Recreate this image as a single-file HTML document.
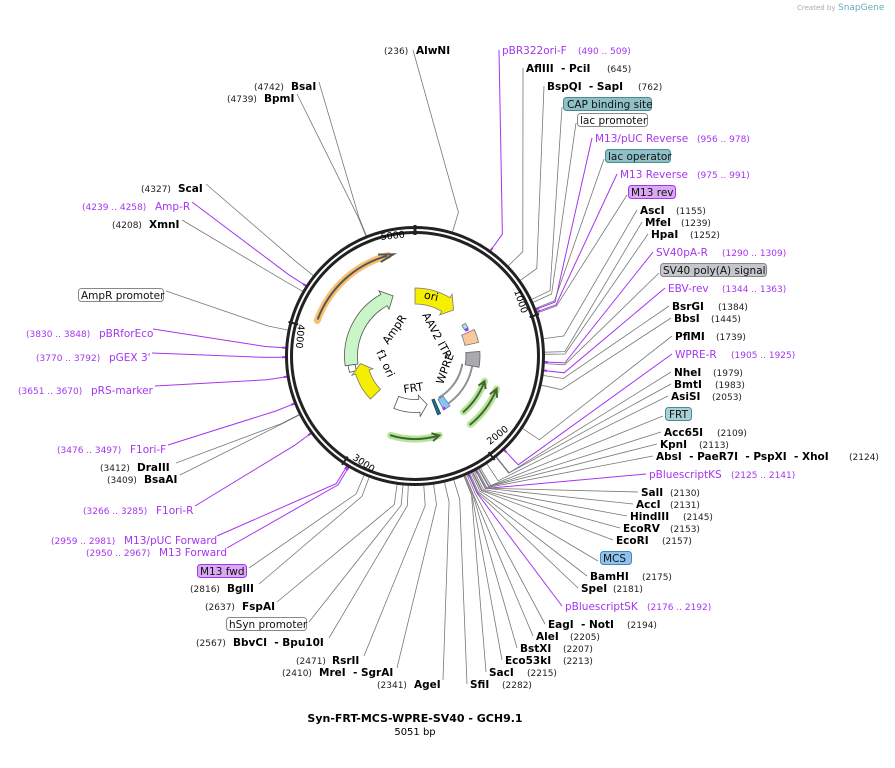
<!DOCTYPE html>
<html><head><meta charset="utf-8"><style>
html,body{margin:0;padding:0;background:#fff}
svg{display:block}
text{font-family:"DejaVu Sans","Liberation Sans",sans-serif}
.b{font-weight:bold;font-size:10.5px;fill:#000}
.n{font-size:9px;fill:#222}
.p{font-size:10.5px;fill:#a535f0}
.pn{font-size:9px;fill:#a535f0}
.f{font-size:10.5px;fill:#111}
</style></head><body>
<svg id="s" width="895" height="768" viewBox="0 0 895 768" xmlns="http://www.w3.org/2000/svg">
<text x="797" y="10" style="font-size:7px;fill:#aaa">Created by</text>
<text x="838" y="10" style="font-size:9px;fill:#6ab">SnapGene</text>
<g id="lines"></g>
<g id="feat"></g>
<circle cx="415" cy="356" r="128.5" fill="none" stroke="#222" stroke-width="3"/>
<circle cx="415" cy="356" r="123.5" fill="none" stroke="#222" stroke-width="3"/>
<g id="ticks"></g>
<!-- right labels -->
<text x="384" y="54" class="n">(236)</text><text x="416" y="54" class="b">AlwNI</text>
<text x="502" y="54" class="p">pBR322ori-F</text><text x="578" y="54" class="pn">(490 .. 509)</text>
<text x="526" y="72" class="b">AflIII &#160;- PciI</text><text x="607" y="72" class="n">(645)</text>
<text x="547" y="90" class="b">BspQI &#160;- SapI</text><text x="638" y="90" class="n">(762)</text>
<rect x="563.5" y="97.5" width="88" height="13" rx="3" fill="#8fc0c8" stroke="#4a8a95"/><text x="567" y="108" class="f">CAP binding site</text>
<rect x="577.5" y="113.5" width="70" height="13" rx="3" fill="#fff" stroke="#888"/><text x="580" y="124" class="f">lac promoter</text>
<text x="595" y="142" class="p">M13/pUC Reverse</text><text x="697" y="142" class="pn">(956 .. 978)</text>
<rect x="605.5" y="149.5" width="65" height="13" rx="3" fill="#8fc0c8" stroke="#4a8a95"/><text x="608" y="160" class="f">lac operator</text>
<text x="620" y="178" class="p">M13 Reverse</text><text x="697" y="178" class="pn">(975 .. 991)</text>
<rect x="628.5" y="185.5" width="47" height="13" rx="3" fill="#dba8f3" stroke="#a535f0"/><text x="631" y="196" class="f">M13 rev</text>
<text x="640" y="214" class="b">AscI</text><text x="676" y="214" class="n">(1155)</text>
<text x="645" y="226" class="b">MfeI</text><text x="681" y="226" class="n">(1239)</text>
<text x="651" y="238" class="b">HpaI</text><text x="690" y="238" class="n">(1252)</text>
<text x="656" y="256" class="p">SV40pA-R</text><text x="722" y="256" class="pn">(1290 .. 1309)</text>
<rect x="660.5" y="263.5" width="106" height="13" rx="3" fill="#c4c7cb" stroke="#888"/><text x="663" y="274" class="f">SV40 poly(A) signal</text>
<text x="668" y="292" class="p">EBV-rev</text><text x="722" y="292" class="pn">(1344 .. 1363)</text>
<text x="672" y="310" class="b">BsrGI</text><text x="718" y="310" class="n">(1384)</text>
<text x="674" y="322" class="b">BbsI</text><text x="711" y="322" class="n">(1445)</text>
<text x="675" y="340" class="b">PflMI</text><text x="716" y="340" class="n">(1739)</text>
<text x="675" y="358" class="p">WPRE-R</text><text x="731" y="358" class="pn">(1905 .. 1925)</text>
<text x="674" y="376" class="b">NheI</text><text x="713" y="376" class="n">(1979)</text>
<text x="674" y="388" class="b">BmtI</text><text x="715" y="388" class="n">(1983)</text>
<text x="671" y="400" class="b">AsiSI</text><text x="712" y="400" class="n">(2053)</text>
<rect x="665.5" y="407.5" width="26" height="13" rx="3" fill="#a9d0d6" stroke="#4a8a95"/><text x="669" y="418" class="f">FRT</text>
<text x="664" y="436" class="b">Acc65I</text><text x="717" y="436" class="n">(2109)</text>
<text x="660" y="448" class="b">KpnI</text><text x="699" y="448" class="n">(2113)</text>
<text x="656" y="460" class="b">AbsI &#160;- PaeR7I &#160;- PspXI &#160;- XhoI</text><text x="849" y="460" class="n">(2124)</text>
<text x="649" y="478" class="p">pBluescriptKS</text><text x="731" y="478" class="pn">(2125 .. 2141)</text>
<text x="641" y="496" class="b">SalI</text><text x="670" y="496" class="n">(2130)</text>
<text x="636" y="508" class="b">AccI</text><text x="670" y="508" class="n">(2131)</text>
<text x="630" y="520" class="b">HindIII</text><text x="683" y="520" class="n">(2145)</text>
<text x="623" y="532" class="b">EcoRV</text><text x="670" y="532" class="n">(2153)</text>
<text x="616" y="544" class="b">EcoRI</text><text x="662" y="544" class="n">(2157)</text>
<rect x="600.5" y="551.5" width="31" height="13" rx="3" fill="#8ec2ef" stroke="#4a86b5"/><text x="603" y="562" class="f">MCS</text>
<text x="590" y="580" class="b">BamHI</text><text x="642" y="580" class="n">(2175)</text>
<text x="581" y="592" class="b">SpeI</text><text x="613" y="592" class="n">(2181)</text>
<text x="565" y="610" class="p">pBluescriptSK</text><text x="647" y="610" class="pn">(2176 .. 2192)</text>
<text x="548" y="628" class="b">EagI &#160;- NotI</text><text x="627" y="628" class="n">(2194)</text>
<text x="536" y="640" class="b">AleI</text><text x="570" y="640" class="n">(2205)</text>
<text x="520" y="652" class="b">BstXI</text><text x="563" y="652" class="n">(2207)</text>
<text x="505" y="664" class="b">Eco53kI</text><text x="563" y="664" class="n">(2213)</text>
<text x="489" y="676" class="b">SacI</text><text x="527" y="676" class="n">(2215)</text>
<text x="470" y="688" class="b">SfiI</text><text x="502" y="688" class="n">(2282)</text>
<!-- left labels -->
<text x="377" y="688" class="n">(2341)</text><text x="414" y="688" class="b">AgeI</text>
<text x="282" y="676" class="n">(2410)</text><text x="319" y="676" class="b">MreI &#160;- SgrAI</text>
<text x="296" y="664" class="n">(2471)</text><text x="332" y="664" class="b">RsrII</text>
<text x="196" y="646" class="n">(2567)</text><text x="233" y="646" class="b">BbvCI &#160;- Bpu10I</text>
<rect x="226.5" y="617.5" width="80" height="13" rx="3" fill="#fff" stroke="#888"/><text x="229" y="628" class="f">hSyn promoter</text>
<text x="205" y="610" class="n">(2637)</text><text x="242" y="610" class="b">FspAI</text>
<text x="190" y="592" class="n">(2816)</text><text x="227" y="592" class="b">BglII</text>
<rect x="197.5" y="564.5" width="49" height="13" rx="3" fill="#dba8f3" stroke="#a535f0"/><text x="200" y="575" class="f">M13 fwd</text>
<text x="86" y="556" class="pn">(2950 .. 2967)</text><text x="159" y="556" class="p">M13 Forward</text>
<text x="51" y="544" class="pn">(2959 .. 2981)</text><text x="124" y="544" class="p">M13/pUC Forward</text>
<text x="83" y="514" class="pn">(3266 .. 3285)</text><text x="156" y="514" class="p">F1ori-R</text>
<text x="107" y="483" class="n">(3409)</text><text x="144" y="483" class="b">BsaAI</text>
<text x="100" y="471" class="n">(3412)</text><text x="137" y="471" class="b">DraIII</text>
<text x="57" y="453" class="pn">(3476 .. 3497)</text><text x="130" y="453" class="p">F1ori-F</text>
<text x="18" y="394" class="pn">(3651 .. 3670)</text><text x="91" y="394" class="p">pRS-marker</text>
<text x="36" y="361" class="pn">(3770 .. 3792)</text><text x="109" y="361" class="p">pGEX 3'</text>
<text x="26" y="337" class="pn">(3830 .. 3848)</text><text x="99" y="337" class="p">pBRforEco</text>
<rect x="78.5" y="288.5" width="85" height="13" rx="3" fill="#fff" stroke="#888"/><text x="81" y="299" class="f">AmpR promoter</text>
<text x="112" y="228" class="n">(4208)</text><text x="149" y="228" class="b">XmnI</text>
<text x="82" y="210" class="pn">(4239 .. 4258)</text><text x="155" y="210" class="p">Amp-R</text>
<text x="141" y="192" class="n">(4327)</text><text x="178" y="192" class="b">ScaI</text>
<text x="227" y="102" class="n">(4739)</text><text x="264" y="102" class="b">BpmI</text>
<text x="254" y="90" class="n">(4742)</text><text x="291" y="90" class="b">BsaI</text>
<!-- inner labels -->
<text x="424" y="300" style="font-size:11px" transform="rotate(12 432 297)">ori</text>
<text x="0" y="0" style="font-size:11px" transform="translate(388 345) rotate(-55)">AmpR</text>
<text x="0" y="0" style="font-size:11px" transform="translate(422 315) rotate(62)">AAV2 ITR</text>
<text x="0" y="0" style="font-size:11px" transform="translate(443 385) rotate(-70)">WPRE</text>
<text x="0" y="0" style="font-size:11px" transform="translate(404 393) rotate(-8)">FRT</text>
<text x="0" y="0" style="font-size:11px" transform="translate(376 352) rotate(65)">f1 ori</text>
<text x="0" y="0" style="font-size:9.5px" transform="translate(381 240) rotate(-6)">5000</text>
<text x="0" y="0" style="font-size:9.5px" transform="translate(514 291) rotate(71)">1000</text>
<text x="0" y="0" style="font-size:9.5px" transform="translate(490 445) rotate(-38)">2000</text>
<text x="0" y="0" style="font-size:9.5px" transform="translate(352 459) rotate(34)">3000</text>
<text x="0" y="0" style="font-size:9.5px" transform="translate(298 324) rotate(95)">4000</text>
<text x="415" y="722" text-anchor="middle" style="font-size:11px;font-weight:bold">Syn-FRT-MCS-WPRE-SV40 - GCH9.1</text>
<text x="415" y="735" text-anchor="middle" style="font-size:10px">5051 bp</text>
</svg>
<script>
var NS="http://www.w3.org/2000/svg",cx=415,cy=356,N=5051;
function P(r,a){a=a*Math.PI/180;return [cx+r*Math.sin(a),cy-r*Math.cos(a)];}
function el(g,t,at){var e=document.createElementNS(NS,t);for(var k in at)e.setAttribute(k,at[k]);document.getElementById(g).appendChild(e);return e;}
var L=[[416,236,0,0],[502,500,1,0],[526,645,0,0],[547,762,0,0],[565,900,0,0],[579,920,0,0],[595,967,1,0],[607,960,0,0],[620,983,1,0],[630,990,0,0],
[640,1155,0,0],[645,1239,0,0],[651,1252,0,0],[656,1300,1,0],[662,1310,0,0],[668,1353,1,0],[672,1384,0,0],[674,1445,0,0],[675,1739,0,0],[675,1915,1,0],
[674,1979,0,0],[674,1983,0,0],[671,2053,0,0],[666,2100,0,0],[664,2109,0,0],[660,2113,0,0],[656,2124,0,0],[649,2133,1,0],[641,2130,0,0],[636,2131,0,0],
[630,2145,0,0],[623,2153,0,0],[616,2157,0,0],[601,2165,0,0],[590,2175,0,0],[581,2181,0,0],[565,2184,1,0],[548,2194,0,0],[536,2205,0,0],[520,2207,0,0],[505,2213,0,0],[489,2215,0,0],[470,2282,0,0],
[440,2341,0,1],[394,2410,0,1],[361,2471,0,1],[326,2567,0,1],[306,2600,0,1],[274,2637,0,1],[256,2816,0,1],[246,2850,0,1],[224,2958,1,1],[214,2970,1,1],[192,3275,1,1],
[177,3409,0,1],[173,3412,0,1],[165,3486,1,1],[152,3660,1,1],[149,3781,1,1],[150,3839,1,1],[163,3950,0,1],[179,4208,0,1],[189,4248,1,1],[203,4327,0,1],[294,4739,0,1],[316,4742,0,1]];
var Y=[54,54,72,90,111,127,142,163,178,199,214,226,238,256,277,292,310,322,340,358,376,388,400,420,436,448,460,478,496,508,520,532,544,565,580,592,610,628,640,652,664,676,688,
684,672,660,642,626,606,588,572,552,540,510,479,467,449,390,357,333,295,224,206,188,98,86];
for(var i=0;i<L.length;i++){var l=L[i],a=l[1]/N*360,p=P(130,a),q=P(150,a);
var x=l[0]+(l[3]?3:-3),y=Y[i]-(i<43||l[3]?4:0);
var c=l[2]?"#a535f0":"#777";
el("lines","polyline",{points:x+","+y+" "+q[0].toFixed(1)+","+q[1].toFixed(1)+" "+p[0].toFixed(1)+","+p[1].toFixed(1),fill:"none",stroke:c,"stroke-width":l[2]?1:0.8});
if(l[2]){var m=P(127,a),n=P(133,a);el("lines","line",{x1:m[0],y1:m[1],x2:n[0],y2:n[1],stroke:c,"stroke-width":2});}}
[0,1000,2000,3000,4000].forEach(function(b){var a=b/N*360,p=P(121,a),q=P(131,a);el("ticks","line",{x1:p[0],y1:p[1],x2:q[0],y2:q[1],stroke:"#222","stroke-width":b?2:3});});
function arc(r,a1,a2,w,fill,stroke,head){var dir=a2>a1?1:-1,ah=head?dir*9:0,ae=a2-ah;
var o1=P(r+w/2,a1),o2=P(r+w/2,ae),i1=P(r-w/2,a1),i2=P(r-w/2,ae),t=P(r,a2),h1=P(r+w/2+4,ae),h2=P(r-w/2-4,ae);
var sw=dir>0?1:0,lg=Math.abs(ae-a1)>180?1:0;
var d="M"+o1+" A"+(r+w/2)+" "+(r+w/2)+" 0 "+lg+" "+sw+" "+o2;
if(head)d+=" L"+h1+" L"+t+" L"+h2;
d+=" L"+i2+" A"+(r-w/2)+" "+(r-w/2)+" 0 "+lg+" "+(1-sw)+" "+i1+" Z";
el("feat","path",{d:d,fill:fill,stroke:stroke,"stroke-width":0.8});}
function line(r,a1,a2,c,w){var p1=P(r,a1),p2=P(r,a2),dir=a2>a1?1:-1;
el("feat","path",{d:"M"+p1+" A"+r+" "+r+" 0 0 "+(dir>0?1:0)+" "+p2,fill:"none",stroke:c,"stroke-width":w,"stroke-linecap":"round"});}
line(104,290,345,"#f8c070",7);line(104,291,344,"#555",2);
var t=P(104,348);el("feat","path",{d:"M"+P(100,340)+" L"+t+" L"+P(108,340),fill:"none",stroke:"#555","stroke-width":2});
function garc(r,a1,a2){line(r,a1,a2,"#b5e59a",7);line(r,a1,a2,"#446633",2);var d=a2>a1?1:-1,t=P(r,a2);el("feat","path",{d:"M"+P(r-4,a2-d*5)+" L"+t+" L"+P(r+4,a2-d*5),fill:"none",stroke:"#446633","stroke-width":2});}
garc(74,139,110);garc(88,141,112);garc(83,197,163);
arc(64,262,340,13,"#c9f5c9","#555",true);
arc(64,256,262,7,"#fff","#555",false);
arc(60,0,40,16,"#f5f000","#777",true);
arc(55,226,262,14,"#f5f000","#777",true);
arc(50,202,166,13,"#fff","#555",true);
arc(58,57,62,4,"#b5dde3","#4a8a95");arc(58,62,64,3,"#a535f0","#a535f0");
arc(58,66,78,14,"#f8c99c","#777");
arc(58,86,100,14,"#a8aaad","#666");
arc(48,100,150,1,"#fff","#777");arc(58,100,150,1,"#fff","#777");
arc(55,145,152,12,"#8ec2ef","#4a86b5");arc(55,156,159,16,"#1f6f8b","#1f3f55");
arc(60,150,152,2,"#a535f0","#a535f0");
</script>
</body></html>
